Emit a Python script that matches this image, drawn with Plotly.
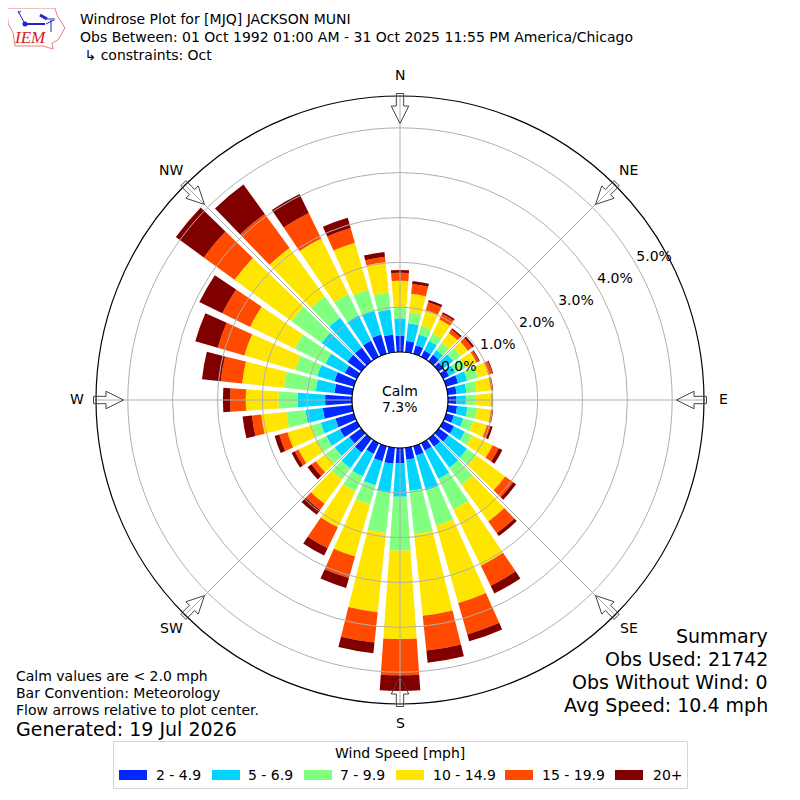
import numpy as np
import plotly.graph_objects as go

W = 800
OFF = 8  # page body margin moves the whole figure by this many px
FONT = "DejaVu Sans"

directions = list(range(0, 360, 10))
speed_bins = ["2 - 4.9", "5 - 6.9", "7 - 9.9", "10 - 14.9", "15 - 19.9", "20+"]
bin_colors = ["#0028ff", "#00d4ff", "#80ff80", "#ffe600", "#ff4a00", "#800000"]

# percent of obs in each bin, direction 0,10,...350
s_2_5 = [.36, .25, .20, .16, .18, .13, .15, .28, .20, .19, .21, .18, .27, .27, .22, .19, .22, .27,
         .34, .36, .35, .27, .38, .33, .42, .43, .66, .60, .40, .45, .30, .38, .38, .40, .45, .40]
s_5_7 = [.39, .40, .25, .24, .13, .27, .16, .21, .22, .21, .23, .22, .27, .51, .58, .70, .81, .70,
         .75, .64, .56, .56, .43, .40, .34, .34, .39, .61, .42, .40, .48, .71, .82, .63, .55, .56]
s_7_10 = [.26, .24, .20, .18, .20, .20, .25, .25, .23, .22, .22, .23, .19, .25, .47, .76, .82, .97,
          1.20, .91, .44, .37, .31, .25, .24, .22, .43, .43, .71, .51, .76, .83, .59, .53, .49, .38]
s_10_15 = [.58, .42, .36, .35, .27, .20, .27, .24, .32, .35, .31, .32, .50, .80, 1.01, 1.39, 1.79, 1.83,
           1.97, 1.78, 1.21, .89, .67, .27, .45, .55, .56, .73, .94, 1.18, 1.11, 1.57, 1.33, 1.38, 1.09, .68]
s_15_20 = [.18, .22, .19, .14, .09, .12, .06, .09, .03, .02, .03, .08, .15, .22, .32, .50, .73, .78,
           .81, .68, .50, .52, .17, .12, .09, .19, .21, .35, .48, .62, .69, .85, .94, .63, .34, .12]
s_20 = [.06, .07, .05, .04, .04, .05, .02, .02, .02, .01, .02, .05, .09, .08, .08, .19, .16, .27,
        .35, .24, .23, .18, .13, .11, .08, .11, .21, .16, .42, .52, .57, .77, .81, .47, .24, .11]
all_bins = [s_2_5, s_5_7, s_7_10, s_10_15, s_15_20, s_20]

compass = ["N", "NE", "E", "SE", "S", "SW", "W", "NW"]
compass_deg = [0, 45, 90, 135, 180, 225, 270, 315]
rings = [0, 1, 2, 3, 4, 5]
ring_labels = ["0.0%", "1.0%", "2.0%", "3.0%", "4.0%", "5.0%"]

title_lines = ["Windrose Plot for [MJQ] JACKSON MUNI",
               "Obs Between: 01 Oct 1992 01:00 AM - 31 Oct 2025 11:55 PM America/Chicago",
               " \u21b3 constraints: Oct"]
left_notes = ["Calm values are < 2.0 mph", "Bar Convention: Meteorology", "Flow arrows relative to plot center."]
summary = ["Summary", "Obs Used: 21742", "Obs Without Wind: 0", "Avg Speed: 10.4 mph"]

# where the legend items sit, left px of swatch and of text
legend_swatch_x = [119, 212, 304, 396, 505, 615]
legend_text_x = [156, 248, 340, 433, 542, 653]


def px(x):
    return (x - OFF) / W


def py(y):
    return 1 - (y - OFF) / W


def label(x, y, text, size=14, anchor="left"):
    # annotation box has a small pad, take it back
    if anchor == "left":
        x = x - 2
    if anchor == "right":
        x = x + 2
    return dict(text=text, x=px(x), y=py(y), xref="paper", yref="paper", showarrow=False,
                xanchor=anchor, yanchor="middle", font=dict(family=FONT, size=size, color="black"))


def poly(pts):
    return "M" + " L".join("%.4f %.4f" % (px(x), py(y)) for x, y in pts) + " Z"


def arrow_path(deg):
    # outline of the flow arrow, in pixels from plot center, tip pointing in
    pts = [(-3.7, 306.5), (3.7, 306.5), (3.7, 294), (8.7, 294), (0, 276.5), (-8.7, 294), (-3.7, 294)]
    a = np.radians(deg)
    out = []
    for u, r in pts:
        out.append((400 + r * np.sin(a) + u * np.cos(a), 400 - r * np.cos(a) + u * np.sin(a)))
    return poly(out)


def logo():
    s = []
    iowa = [(7, 8), (55, 8), (57, 15), (65, 28), (58, 40), (52, 43), (53, 49), (43, 46), (15, 46), (13, 33), (8, 23)]
    s.append(dict(type="path", xref="paper", yref="paper", line=dict(color="#e88080", width=1), path=poly(iowa)))
    segs = [((25, 24), (45, 24), 2), ((46, 24), (54, 20), 1), ((40, 15), (47, 19), 3), ((47, 19), (55, 19), 1),
            ((51, 20), (51, 32), 1), ((18, 11), (25, 24), 1), ((18, 13), (21, 11), 1)]
    for (x0, y0), (x1, y1), wd in segs:
        s.append(dict(type="line", xref="paper", yref="paper", x0=px(x0), y0=py(y0), x1=px(x1), y1=py(y1),
                      line=dict(color="#2222cc", width=wd)))
    s.append(dict(type="circle", xref="paper", yref="paper", x0=px(22.5), y0=py(21.5), x1=px(27.5), y1=py(26.5),
                  fillcolor="#2222cc", line=dict(width=0)))
    return s


fig = go.Figure()
for name, vals, col in zip(speed_bins, all_bins, bin_colors):
    fig.add_trace(go.Barpolar(r=vals, theta=directions, width=8, name=name, showlegend=False,
                              marker=dict(color=col, line=dict(width=0))))
# grid has to be over the bars, plotly keeps it under, so a 2nd polar on top holds grid and ring labels
fig.add_trace(go.Scatterpolar(r=[v + 0.43 for v in rings], theta=[60.7] * len(rings), text=ring_labels, mode="text",
                              subplot="polar2", showlegend=False, cliponaxis=False,
                              textfont=dict(family=FONT, size=14, color="black")))

shapes = logo()
for d in compass_deg:
    shapes.append(dict(type="path", path=arrow_path(d), xref="paper", yref="paper",
                       line=dict(color="#444444", width=1), fillcolor="rgba(255,255,255,0)"))

annos = [dict(text="<i>IEM</i>", x=px(30), y=py(38), xref="paper", yref="paper", showarrow=False,
              xanchor="center", yanchor="middle",
              font=dict(family="Liberation Serif", size=17, color="#d42020"))]
for i, t in enumerate(title_lines):
    annos.append(label(80, 19 + i * 18, t))
for i, t in enumerate(left_notes):
    annos.append(label(16, 676 + i * 17, t))
annos.append(label(16, 729, "Generated: 19 Jul 2026", size=19))
for i, t in enumerate(summary):
    annos.append(label(768, 636 + i * 23, t, size=19, anchor="right"))
annos.append(label(400, 391, "Calm", anchor="center"))
annos.append(label(400, 407, "7.3%", anchor="center"))
for t, d in zip(compass, compass_deg):
    a = np.radians(d)
    annos.append(label(400 + 323.5 * np.sin(a), 399 - 323.5 * np.cos(a), t, anchor="center"))

# legend box, wide swatches need shapes
shapes.append(dict(type="rect", xref="paper", yref="paper", x0=px(113.5), y0=py(741.5), x1=px(687.5), y1=py(788.5),
                   line=dict(color="#d5d5d5", width=1), fillcolor="white"))
annos.append(label(400, 753, "Wind Speed [mph]", anchor="center"))
for name, col, sx, tx in zip(speed_bins, bin_colors, legend_swatch_x, legend_text_x):
    shapes.append(dict(type="rect", xref="paper", yref="paper", x0=px(sx), y0=py(770), x1=px(sx + 28), y1=py(780),
                       fillcolor=col, line=dict(width=0)))
    annos.append(label(tx, 775, name))

dom = dict(x=[px(96), px(704)], y=[py(704), py(96)])
fig.update_layout(
    width=W, height=W, margin=dict(l=0, r=0, t=0, b=0), paper_bgcolor="white", showlegend=False,
    font=dict(family=FONT, size=14, color="black"),
    shapes=shapes, annotations=annos,
    polar=dict(
        domain=dom, bgcolor="white", barmode="stack", hole=48 / 304,
        radialaxis=dict(range=[0, 5.71], tickvals=rings, showticklabels=False, showline=False, ticks="", showgrid=False),
        angularaxis=dict(rotation=90, direction="clockwise", tickmode="array", tickvals=compass_deg,
                         showticklabels=False, ticks="", showgrid=False, showline=False),
    ),
    polar2=dict(
        domain=dom, bgcolor="rgba(0,0,0,0)", hole=48 / 304,
        radialaxis=dict(range=[0, 5.71], tickvals=rings, showticklabels=False, showline=False, ticks="",
                        gridcolor="#b0b0b0", gridwidth=1.3),
        angularaxis=dict(rotation=90, direction="clockwise", tickmode="array", tickvals=compass_deg,
                         showticklabels=False, ticks="", gridcolor="#b0b0b0", gridwidth=1.3,
                         showline=True, linecolor="black", linewidth=1.2),
    ),
)
fig.write_html("out.html")
